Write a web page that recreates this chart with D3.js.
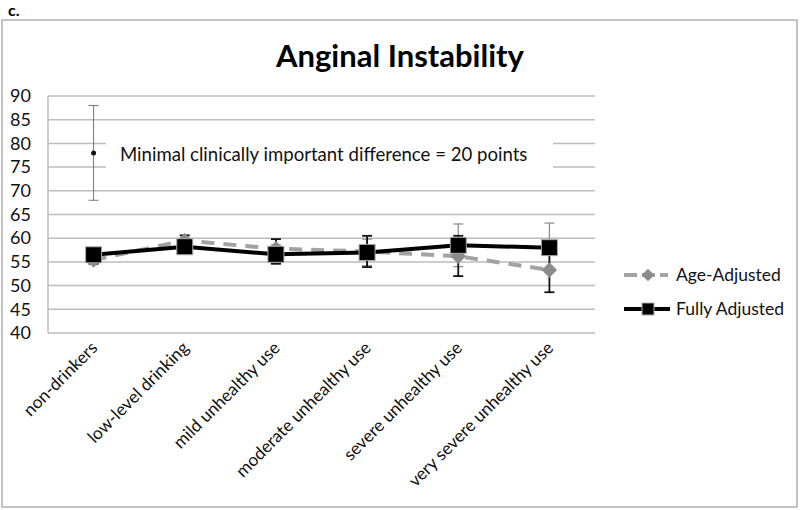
<!DOCTYPE html>
<html><head><meta charset="utf-8">
<script src="https://cdn.jsdelivr.net/npm/d3@7/dist/d3.min.js"></script>
<style>body{margin:0;background:#fff}svg{display:block}text{font-family:Lato,"Open Sans",sans-serif}</style>
</head><body><svg id="c" width="800" height="510"></svg>
<script>
const categories = ["non-drinkers","low-level drinking","mild unhealthy use","moderate unhealthy use","severe unhealthy use","very severe unhealthy use"];
const ageAdjusted = [55.4, 59.5, 57.8, 57.2, 56.2, 53.3];
const ageLow =      [54.6, 58.6, 54.6, 53.9, 52.0, 48.6];
const ageHigh =     [56.2, 60.6, 59.8, 60.5, 60.5, 58.0];
const fullyAdjusted = [56.5, 58.2, 56.6, 57.0, 58.5, 58.0];
const fullLow =       [55.8, 57.6, 54.7, 54.2, 54.0, 53.2];
const fullHigh =      [57.2, 58.8, 58.6, 59.8, 63.0, 63.2];
const yTicks = [40,45,50,55,60,65,70,75,80,85,90];
const mcid = {center:78, low:68, high:88};
const title = "Anginal Instability";
const note = "Minimal clinically important difference = 20 points";
const seriesNames = ["Age-Adjusted","Fully Adjusted"];

const svg = d3.select("#c");
const L=48,R=595,T=96,B=333;
const x = d3.scaleBand().domain(categories).range([L,R]);
const y = d3.scaleLinear().domain([40,90]).range([B,T]);
const cx = c => x(c)+x.bandwidth()/2;

svg.append("rect").attr("x",2).attr("y",20).attr("width",795).attr("height",487)
  .attr("fill","none").attr("stroke","#b0b0b0").attr("stroke-width",1.5);
svg.append("text").attr("x",8).attr("y",16).attr("font-size",16).attr("font-weight","bold").text("c.");
svg.append("text").attr("x",400).attr("y",67).attr("text-anchor","middle").attr("font-size",31).attr("font-weight","bold").text(title);

// grid
svg.append("g").selectAll("line").data(yTicks).join("line")
  .attr("x1",L).attr("x2",R).attr("y1",d=>y(d)).attr("y2",d=>y(d))
  .attr("stroke","#bdbdbd").attr("stroke-width",1.5);
svg.append("line").attr("x1",L).attr("x2",L).attr("y1",T).attr("y2",B).attr("stroke","#bdbdbd").attr("stroke-width",1.5);

// y axis labels
const yAxis = d3.axisLeft(y).tickValues(yTicks).tickSize(0).tickPadding(17);
const ga = svg.append("g").attr("transform",`translate(${L},0)`).call(yAxis);
ga.select(".domain").remove();
ga.selectAll("text").attr("font-size",18).attr("fill","#111").style("font-family","Lato,'Open Sans',sans-serif");

// x labels
svg.append("g").selectAll("text").data(categories).join("text")
  .attr("transform",d=>`translate(${cx(d)+5},${349}) rotate(-45)`)
  .attr("text-anchor","end").attr("font-size",17.3).attr("fill","#111").text(d=>d);

// note box
svg.append("rect").attr("x",106).attr("y",134).attr("width",447).attr("height",42).attr("fill","#fff");
svg.append("text").attr("x",120).attr("y",161).attr("font-size",18.6).attr("fill","#111").text(note);

// mcid bar
const mx = cx(categories[0]);
const mg = svg.append("g").attr("stroke","#777").attr("stroke-width",1);
mg.append("line").attr("x1",mx).attr("x2",mx).attr("y1",y(mcid.low)).attr("y2",y(mcid.high));
mg.append("line").attr("x1",mx-5).attr("x2",mx+5).attr("y1",y(mcid.low)).attr("y2",y(mcid.low));
mg.append("line").attr("x1",mx-5).attr("x2",mx+5).attr("y1",y(mcid.high)).attr("y2",y(mcid.high));
svg.append("circle").attr("cx",mx).attr("cy",y(mcid.center)).attr("r",2.5).attr("fill","#111");

function errBars(low,high,color,w){
  const g = svg.append("g").attr("stroke",color).attr("stroke-width",w);
  categories.forEach((c,i)=>{
    const X=cx(c);
    g.append("line").attr("x1",X).attr("x2",X).attr("y1",y(low[i])).attr("y2",y(high[i]));
    [low[i],high[i]].forEach(v=>g.append("line").attr("x1",X-5).attr("x2",X+5).attr("y1",y(v)).attr("y2",y(v)));
  });
}
errBars(fullLow,fullHigh,"#888",1.2);
errBars(ageLow,ageHigh,"#111",1.8);

const line = d3.line().x((d,i)=>cx(categories[i])).y(d=>y(d));
svg.append("path").datum(ageAdjusted).attr("d",line).attr("fill","none")
  .attr("stroke","#a3a3a3").attr("stroke-width",4).attr("stroke-dasharray","13,9");
svg.append("g").selectAll("path").data(ageAdjusted).join("path")
  .attr("d",d3.symbol().type(d3.symbolDiamond2).size(150))
  .attr("transform",(d,i)=>`translate(${cx(categories[i])},${y(d)})`).attr("fill","#8c8c8c");
svg.append("path").datum(fullyAdjusted).attr("d",line).attr("fill","none")
  .attr("stroke","#000").attr("stroke-width",4);
svg.append("g").selectAll("rect").data(fullyAdjusted).join("rect")
  .attr("x",(d,i)=>cx(categories[i])-8).attr("y",d=>y(d)-8).attr("width",16).attr("height",16)
  .attr("fill","#000").attr("stroke","#aaa").attr("stroke-width",1);

// legend
const lg = svg.append("g");
lg.append("line").attr("x1",624).attr("x2",668).attr("y1",275).attr("y2",275).attr("stroke","#a3a3a3").attr("stroke-width",4).attr("stroke-dasharray","13,5");
lg.append("path").attr("d",d3.symbol().type(d3.symbolDiamond2).size(100)).attr("transform","translate(648,275)").attr("fill","#8c8c8c");
lg.append("text").attr("x",676).attr("y",281).attr("font-size",17.5).attr("fill","#111").text(seriesNames[0]);
lg.append("line").attr("x1",624).attr("x2",670).attr("y1",309).attr("y2",309).attr("stroke","#000").attr("stroke-width",4);
lg.append("rect").attr("x",642).attr("y",303).attr("width",12).attr("height",12).attr("fill","#000").attr("stroke","#aaa");
lg.append("text").attr("x",676).attr("y",315).attr("font-size",17.5).attr("fill","#111").text(seriesNames[1]);
</script></body></html>
